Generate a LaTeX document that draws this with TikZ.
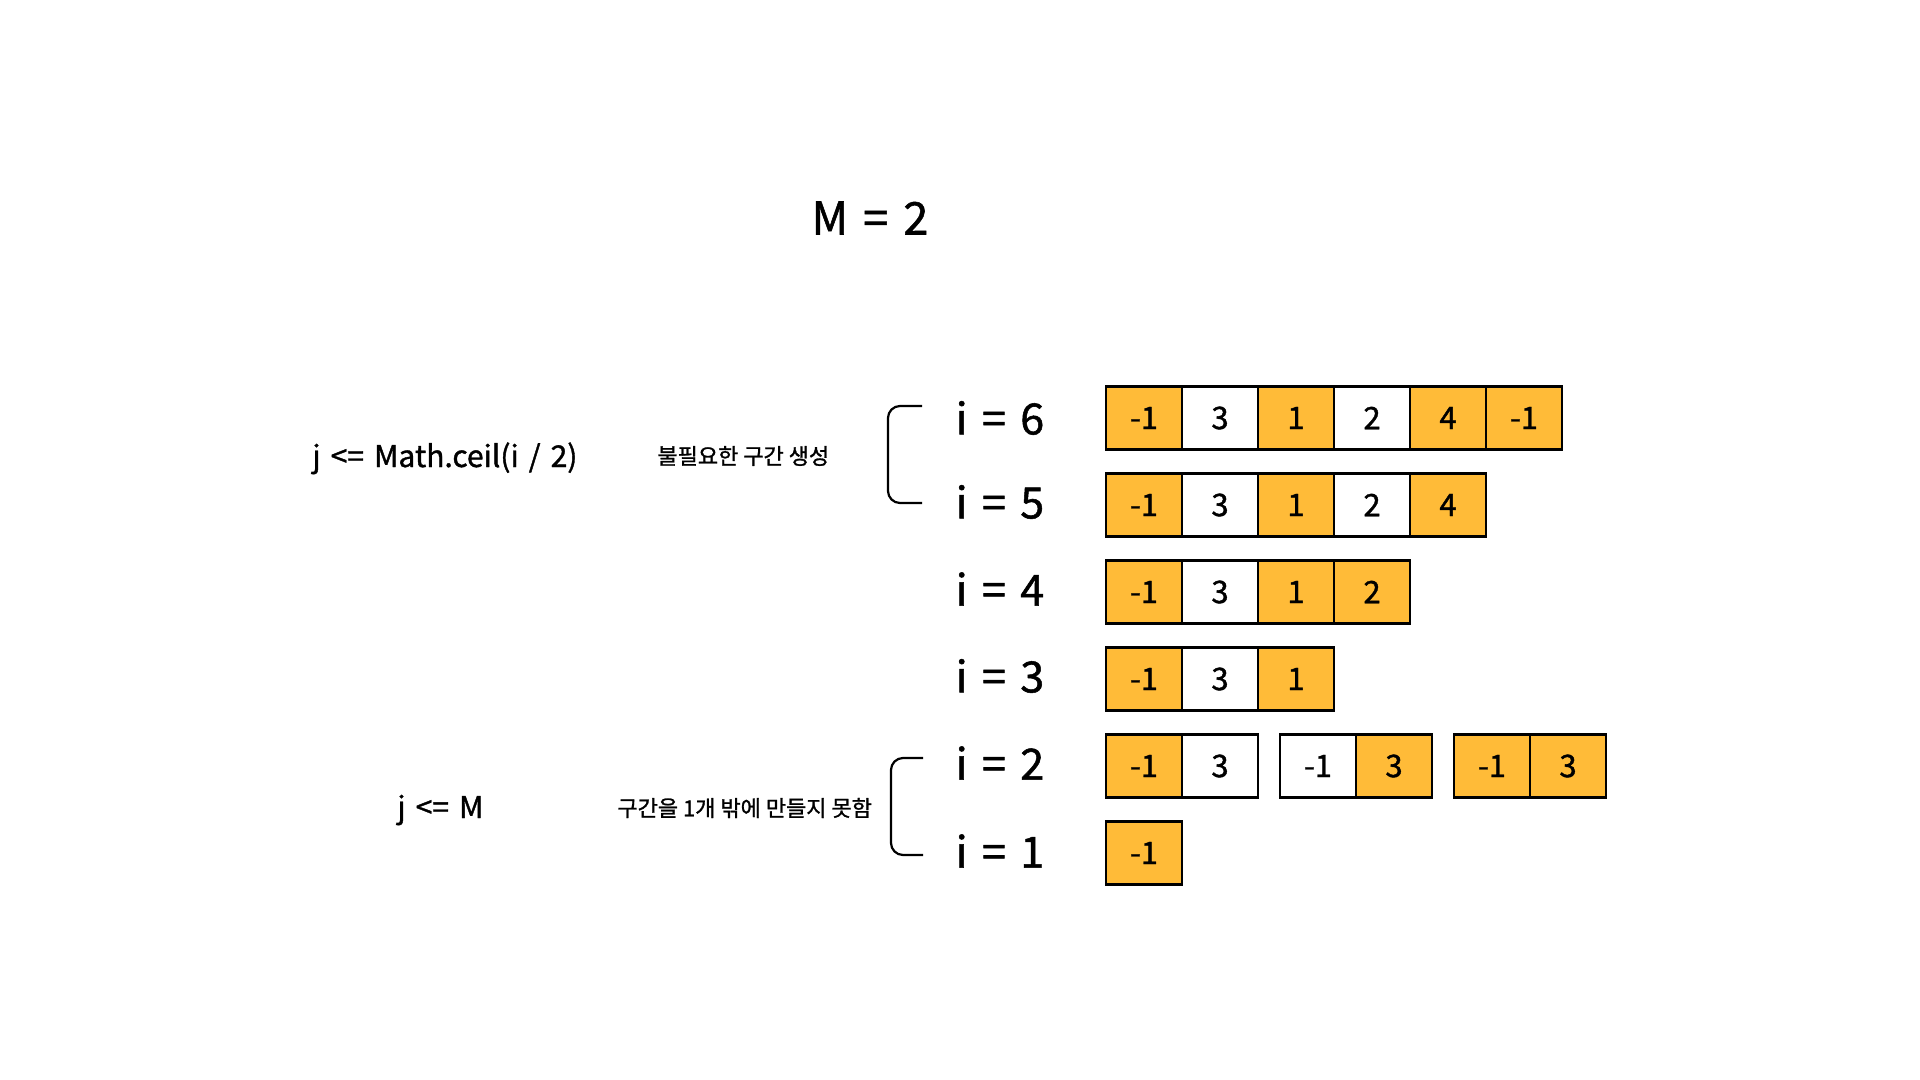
\documentclass[tikz,border=0pt]{standalone}
\usepackage{fontspec}
\setmainfont[FakeBold=1.2]{Noto Sans CJK KR}
\newfontfamily\latinwide[FakeBold=1.2, WordSpace=2.0]{Noto Sans CJK KR}
\newfontfamily\latintitle[FakeBold=1.2, WordSpace=1.5]{Noto Sans CJK KR}
\definecolor{cellor}{HTML}{FFBB38}
\tikzset{
  cellbox/.style={draw=black, line width=1.1pt, inner sep=0pt, outer sep=0pt,
    minimum width=38pt, minimum height=31.5pt, font=\latinwide\fontsize{15.5pt}{18pt}\selectfont},
  oc/.style={cellbox, fill=cellor},
  wc/.style={cellbox, fill=white},
  ilabel/.style={font=\latinwide\fontsize{21.5pt}{24pt}\selectfont, inner sep=0pt},
  expr/.style={font=\latinwide\fontsize{15pt}{17pt}\selectfont, inner sep=0pt},
  krnote/.style={font=\fontsize{11pt}{14pt}\selectfont, inner sep=0pt},
  brk/.style={line width=1.1pt, rounded corners=6pt}
}
\begin{document}
\begin{tikzpicture}[x=0.5pt, y=-0.5pt]
\useasboundingbox (0,0) rectangle (1920,1080);
\fill[white] (0,0) rectangle (1920,1080);

\node[font=\latintitle\fontsize{22.5pt}{26pt}\selectfont, inner sep=0pt] (title) at (870,218) {M = 2};

% left expressions
\node[expr, anchor=base west] (e1) at (312,467) {j <= Math.ceil(i / 2)};
\node[krnote, anchor=west] (k1) at (657,456) {불필요한 구간 생성};
\node[expr, anchor=base west] (e2) at (397,818) {j <= M};
\node[krnote, anchor=west] (k2) at (617,808) {구간을 1개 밖에 만들지 못함};

% brackets
\draw[brk] (922,406) -- (888,406) -- (888,503) -- (922,503);
\draw[brk] (923,758) -- (891,758) -- (891,855) -- (923,855);

% i labels
\node[ilabel] (l6) at (1000,418) {i = 6};
\node[ilabel] (l5) at (1000,502) {i = 5};
\node[ilabel] (l4) at (1000,589) {i = 4};
\node[ilabel] (l3) at (1000,676) {i = 3};
\node[ilabel] (l2) at (1000,763) {i = 2};
\node[ilabel] (l1) at (1000,851) {i = 1};

% row 6
\node[oc] (r6a) at (1144,418) {-1};
\node[wc] (r6b) at (1220,418) {3};
\node[oc] (r6c) at (1296,418) {1};
\node[wc] (r6d) at (1372,418) {2};
\node[oc] (r6e) at (1448,418) {4};
\node[oc] (r6f) at (1524,418) {-1};
% row 5
\node[oc] (r5a) at (1144,505) {-1};
\node[wc] (r5b) at (1220,505) {3};
\node[oc] (r5c) at (1296,505) {1};
\node[wc] (r5d) at (1372,505) {2};
\node[oc] (r5e) at (1448,505) {4};
% row 4
\node[oc] (r4a) at (1144,592) {-1};
\node[wc] (r4b) at (1220,592) {3};
\node[oc] (r4c) at (1296,592) {1};
\node[oc] (r4d) at (1372,592) {2};
% row 3
\node[oc] (r3a) at (1144,679) {-1};
\node[wc] (r3b) at (1220,679) {3};
\node[oc] (r3c) at (1296,679) {1};
% row 2
\node[oc] (r2a) at (1144,766) {-1};
\node[wc] (r2b) at (1220,766) {3};
\node[wc] (r2c) at (1318,766) {-1};
\node[oc] (r2d) at (1394,766) {3};
\node[oc] (r2e) at (1492,766) {-1};
\node[oc] (r2f) at (1568,766) {3};
% row 1
\node[oc] (r1a) at (1144,853) {-1};
\end{tikzpicture}
\end{document}
